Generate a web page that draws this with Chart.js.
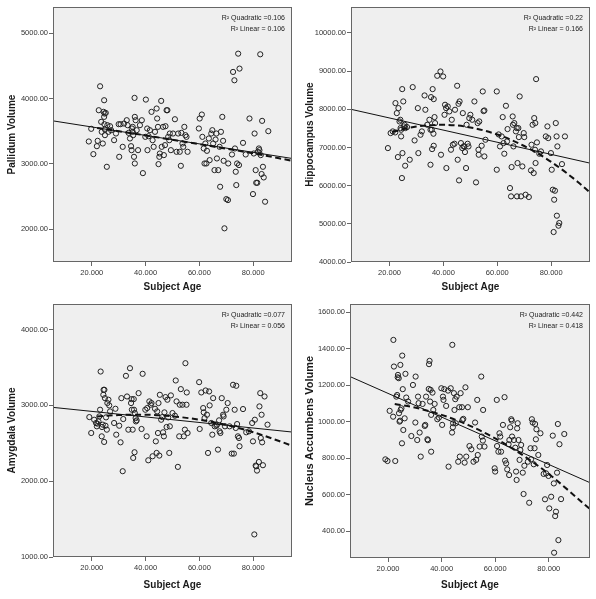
<!DOCTYPE html>
<html>
<head>
<meta charset="utf-8">
<script src="https://cdn.jsdelivr.net/npm/chart.js@4.4.1/dist/chart.umd.min.js"></script>
<style>
  body { margin: 0; background: #fff; }
  #wrap { position: relative; width: 596px; height: 599px; }
  canvas { position: absolute; }
</style>
</head>
<body>
<div id="wrap">
  <canvas id="c0" width="298" height="300" style="left:0;top:0"></canvas>
  <canvas id="c1" width="298" height="300" style="left:298px;top:0"></canvas>
  <canvas id="c2" width="298" height="299" style="left:0;top:300px"></canvas>
  <canvas id="c3" width="298" height="299" style="left:298px;top:300px"></canvas>
</div>
<script>
// [age, volume] pairs
const pallidum = [
  [18.9,3342],[19.8,3536],[20.6,3148],[22.2,3352],[21.9,3270],[22.6,3821],[23.1,4188],[23.5,3643],
  [23.7,3490],[24.6,3974],[24.4,3796],[24.8,3770],[25.2,3780],[24.6,3719],[24.7,3607],[24.9,3525],
  [24.9,3439],[25.6,2954],[24.1,3311],[25.8,3592],[26.2,3490],[26.8,3576],[27.2,3515],[28.3,3362],
  [29.0,3464],[30.0,3607],[30.2,3107],[30.7,3607],[31.5,3260],[32.0,3617],[33.0,3668],[33.3,3592],
  [33.7,3474],[34.2,3388],[34.6,3270],[34.8,3209],[34.9,3541],[35.2,3490],[35.2,3566],[35.4,3439],
  [35.7,3107],[35.9,4010],[36.0,3719],[36.3,3668],[36.0,3005],[36.7,3515],[37.2,3209],[37.9,3592],
  [38.6,3668],[39.0,2857],[39.9,3413],[40.1,3984],[40.6,3541],[40.7,3209],[41.1,3423],[41.6,3515],
  [42.2,3796],[42.6,3362],[43.0,3260],[43.5,3490],[44.1,3847],[44.3,3694],[44.6,3566],[44.8,2995],
  [45.1,3107],[45.3,3158],[45.8,3964],[46.0,3260],[46.5,3566],[46.8,3133],[47.2,3286],[47.4,3576],
  [47.8,3821],[48.1,3821],[48.4,3413],[48.8,3362],[49.0,3464],[49.4,3209],[50.2,3464],[50.9,3683],
  [51.5,3184],[52.1,3464],[52.7,3184],[53.1,2969],[53.3,3474],[53.7,3311],[54.0,3260],[54.4,3566],
  [54.8,3439],[55.2,3413],[55.6,3184],[59.8,3541],[60.1,3694],[60.9,3755],[61.1,3413],[61.6,3235],
  [61.9,3005],[62.2,3311],[62.6,3005],[62.8,3199],[63.5,3388],[63.8,3056],[64.4,3464],[64.8,3515],
  [65.1,3311],[65.6,2903],[66.0,3372],[66.3,3464],[66.5,3082],[67.0,2903],[67.5,3260],[67.7,2648],
  [68.0,3490],[68.5,3719],[68.8,3352],[69.0,3046],[69.3,2011],[70.0,2459],[70.6,2444],[70.7,3005],
  [72.1,3143],[72.5,4408],[73.0,4280],[73.2,3235],[73.5,2878],[73.7,2674],[74.0,3005],[74.4,4688],
  [74.9,4459],[74.7,2980],[76.2,3321],[77.2,3143],[78.6,3694],[79.9,2536],[80.2,3158],[80.5,3464],
  [80.9,2903],[81.1,2709],[81.5,2709],[81.7,3184],[82.1,3235],[82.3,3209],[82.6,4678],[82.8,3133],
  [83.1,2843],[83.3,3658],[83.6,2954],[83.9,2791],[84.4,2419],[85.6,3500]
];
const hippocampus = [
  [19.4,6984],[20.4,7377],[21.2,7421],[22.1,7394],[22.2,8162],[22.7,7900],[23.1,6749],[23.3,8031],
  [23.7,7682],[24.0,7726],[24.1,7508],[24.3,7464],[24.3,7290],[24.6,6199],[24.7,8529],[24.8,6853],
  [25.1,8206],[25.3,7552],[25.6,7595],[25.8,6522],[25.9,7508],[26.5,7534],[27.5,6679],[28.6,8581],
  [29.3,7185],[30.5,8031],[30.7,6853],[31.5,7333],[32.0,7421],[33.0,8363],[33.3,7988],[34.0,7595],
  [34.8,7726],[35.2,6548],[35.2,7464],[35.4,8319],[35.7,7464],[35.8,6958],[36.0,8529],[36.3,7360],
  [36.4,8267],[36.4,7045],[36.7,7796],[36.9,7639],[37.7,8878],[38.9,8991],[39.1,6810],[39.9,8860],
  [40.4,7857],[40.6,8119],[41.0,8031],[41.1,6461],[41.6,8075],[42.2,7944],[42.8,6941],[43.1,7726],
  [43.5,7072],[44.1,7098],[44.3,7988],[45.1,8616],[45.3,6679],[45.6,8145],[45.8,6138],[46.0,8206],
  [46.5,7115],[47.0,6984],[47.2,7900],[47.5,7028],[47.8,7028],[48.0,6880],[48.4,6461],[48.6,7595],
  [49.0,7098],[49.3,7028],[49.6,7770],[50.0,7857],[50.7,7726],[51.5,8206],[52.1,6086],[52.7,7639],
  [53.0,6941],[53.1,6810],[53.3,7682],[54.2,7045],[54.6,8468],[54.9,7953],[55.2,7970],[55.2,6766],
  [55.6,7202],[59.8,8468],[59.8,6417],[60.5,7342],[61.0,7028],[61.6,7290],[62.0,7796],[62.3,7115],
  [62.6,6836],[63.2,8092],[63.6,7159],[63.8,7482],[64.7,5937],[65.1,5719],[65.3,6487],[65.7,7813],
  [65.8,7595],[66.0,7028],[66.3,7639],[66.9,7421],[67.2,7508],[67.3,5719],[67.5,6592],[67.8,7508],
  [68.0,7272],[68.3,8337],[68.8,5719],[69.3,6504],[69.8,7377],[70.0,7272],[70.5,5763],[71.7,5702],
  [72.5,6400],[72.7,7072],[73.1,7595],[73.5,6330],[73.7,7770],[74.0,6941],[74.1,7639],[74.2,6592],
  [74.4,8791],[74.7,7133],[75.6,6836],[76.2,6897],[78.0,7290],[78.6,7552],[78.9,7246],[79.9,6853],
  [80.2,6417],[80.6,5894],[81.1,5632],[81.4,5867],[81.7,7639],[82.0,7290],[82.1,5213],[82.3,7028],
  [82.7,4951],[83.0,5021],[80.9,4785],[84.0,6565],[85.1,7290]
];
const amygdala = [
  [19.1,2846],[19.8,2636],[20.9,2811],[21.6,2768],[21.9,2724],[22.1,2759],[22.5,2789],[22.8,2855],
  [23.1,2943],[23.3,3447],[23.7,2592],[23.8,2715],[24.1,2746],[24.3,3140],[24.4,3206],[24.6,2518],
  [24.7,3206],[24.9,3096],[25.1,2732],[25.3,2842],[25.6,2680],[25.8,3031],[26.2,3075],[26.5,3000],
  [26.8,2921],[28.3,2768],[28.8,2956],[29.1,2614],[30.2,2732],[30.7,2513],[31.0,3096],[31.5,2132],
  [31.7,2820],[32.7,3390],[33.1,3118],[33.6,2680],[34.2,3491],[34.6,3031],[34.8,3083],[34.9,2943],
  [35.2,2680],[35.4,2307],[35.6,3083],[35.7,2943],[35.9,2382],[36.0,2899],[36.3,2833],[36.4,2789],
  [36.7,2803],[37.4,3162],[38.5,2689],[38.9,3417],[39.9,2943],[40.4,2592],[40.6,2965],[41.0,2276],
  [41.4,3053],[41.9,3009],[42.2,3031],[42.6,2329],[43.5,2956],[43.8,2526],[44.1,2373],[44.3,2921],
  [44.6,2636],[44.8,3031],[45.1,2338],[45.3,3140],[45.8,2811],[46.2,2846],[46.5,2645],[46.8,2592],
  [47.0,2908],[47.4,3110],[47.8,2715],[48.1,3075],[48.4,2842],[48.8,2373],[49.0,2724],[49.4,3132],
  [50.0,2899],[50.9,2864],[51.2,3329],[51.5,3053],[52.0,2189],[52.5,2592],[52.7,3009],[53.1,3215],
  [53.7,3009],[54.2,2592],[54.6,2680],[54.8,3557],[55.2,3009],[55.3,3171],[55.6,2636],[59.9,3307],
  [60.1,2689],[60.7,3171],[61.4,2965],[61.6,2908],[61.9,2833],[62.3,3197],[62.8,2877],[63.2,2373],
  [63.6,3184],[63.8,3000],[64.4,2768],[64.8,2614],[65.1,3096],[65.7,2724],[66.3,2732],[66.5,2746],
  [66.9,2417],[67.3,2803],[67.5,2658],[67.8,2636],[68.3,3096],[68.8,2877],[69.0,2855],[69.5,2724],
  [70.0,2943],[70.5,3031],[71.2,2724],[72.0,2364],[72.5,3272],[72.8,2364],[73.1,2943],[73.5,2702],
  [73.7,3259],[74.0,2754],[74.3,2592],[74.7,2570],[74.9,2461],[76.2,2952],[77.4,2645],[78.4,2658],
  [79.6,2768],[79.9,2526],[80.4,1298],[80.6,2811],[80.9,2206],[81.1,2197],[81.4,2140],[82.1,2254],
  [82.3,2987],[82.6,3162],[82.8,2570],[83.1,2877],[83.3,2513],[83.6,2211],[84.2,3118],[85.3,2746]
];
const accumbens = [
  [19.0,793],[19.8,784],[20.6,1059],[21.9,1027],[22.2,1302],[22.7,784],[22.0,1448],[23.1,1137],
  [23.4,1146],[23.6,1243],[23.7,1256],[24.0,1238],[24.1,1046],[24.3,1000],[24.5,1005],[24.6,1311],
  [24.7,1064],[25.0,1073],[25.2,881],[25.3,1362],[25.5,1178],[25.7,954],[26.2,1018],[26.5,1262],
  [26.8,1132],[27.5,1110],[28.7,921],[29.3,1201],[30.2,995],[30.3,1247],[30.9,899],[31.2,1137],
  [31.4,1101],[31.8,940],[32.2,808],[32.9,1097],[33.7,976],[33.9,982],[34.2,1137],[34.7,903],
  [34.9,898],[35.2,1179],[35.3,1315],[35.5,1333],[35.7,1110],[35.9,1174],[36.1,835],[36.1,1037],
  [36.6,1159],[36.9,1064],[37.4,1097],[38.4,1013],[39.0,1022],[39.9,1183],[40.2,982],[40.5,1137],
  [40.7,1119],[41.0,1178],[41.7,1086],[42.4,1170],[42.6,753],[43.4,1183],[43.9,940],[44.0,1421],
  [44.2,969],[44.3,991],[44.6,1156],[44.8,1064],[45.1,1123],[45.3,991],[45.6,1137],[46.2,780],
  [46.6,1079],[46.8,808],[47.1,1156],[47.6,1079],[47.8,1009],[48.1,1015],[48.6,775],[48.9,1188],
  [49.2,808],[49.8,1079],[50.4,866],[51.1,848],[51.9,780],[52.5,995],[52.9,790],[53.3,1119],
  [53.5,817],[54.2,863],[54.8,1247],[55.0,918],[55.4,896],[55.5,1064],[56.0,863],[59.8,744],
  [60.0,726],[60.6,1119],[60.7,866],[61.2,835],[61.6,936],[61.9,918],[62.2,835],[62.9,982],
  [63.5,1134],[63.7,786],[64.1,771],[64.5,738],[65.0,876],[65.2,707],[65.3,899],[65.6,969],
  [66.0,1013],[66.2,1005],[66.3,918],[67.0,899],[67.5,857],[67.8,726],[68.0,680],[68.2,963],
  [68.4,991],[68.7,899],[69.1,790],[69.4,844],[69.7,872],[70.3,720],[70.6,603],[70.9,758],
  [72.2,780],[72.7,555],[73.2,854],[73.4,793],[73.7,1013],[74.0,995],[74.4,766],[74.7,854],
  [74.9,987],[75.2,903],[75.4,958],[76.1,817],[76.9,936],[78.1,713],[78.6,574],[79.0,716],
  [79.4,762],[79.9,702],[80.2,524],[80.9,588],[81.5,923],[81.9,661],[82.4,482],[82.7,506],
  [83.1,720],[83.4,987],[83.6,350],[84.0,876],[84.6,575],[85.8,932],[82.0,281]
];

// fit lines: linear (solid) and quadratic (dashed)
const pallidumLinear = [[5.6,3658],[94.4,3082]];
const pallidumQuad = [[22,3550],[40,3435],[60,3300],[80,3160],[94.4,3046]];
const hippocampusLinear = [[5.7,8000],[94.4,6590]];
const hippocampusQuad = [[21,7408],[30,7549],[40,7595],[50,7525],[60,7340],[70,7039],[80,6623],[90,6091],[94.4,5820]];
const amygdalaLinear = [[5.6,2974],[94.4,2649]];
const amygdalaQuad = [[22,2853],[30,2873],[40,2877],[50,2856],[60,2811],[70,2742],[80,2647],[94.4,2469]];
const accumbensLinear = [[5.8,1247],[95.4,665]];
const accumbensQuad = [[22.5,1096],[30,1077],[40,1037],[50,981],[60,908],[70,819],[80,713],[95.4,520]];

// tick values
const ageTicks = [20, 40, 60, 80];
const pallidumTicks = [2000, 3000, 4000, 5000];
const hippocampusTicks = [4000, 5000, 6000, 7000, 8000, 9000, 10000];
const amygdalaTicks = [1000, 2000, 3000, 4000];
const accumbensTicks = [400, 600, 800, 1000, 1200, 1400, 1600];

const pallidumNotes = ["R\u00b2 Quadratic =0.106", "R\u00b2 Linear = 0.106"];
const hippocampusNotes = ["R\u00b2 Quadratic =0.22", "R\u00b2 Linear = 0.166"];
const amygdalaNotes = ["R\u00b2 Quadratic =0.077", "R\u00b2 Linear = 0.056"];
const accumbensNotes = ["R\u00b2 Quadratic =0.442", "R\u00b2 Linear = 0.418"];

const FONT = "Arial, 'Liberation Sans', sans-serif";
const toXY = (arr) => arr.map(([x, y]) => ({ x, y }));

const framePlugin = {
  id: "frame",
  beforeDraw(chart) {
    const { ctx, chartArea: a } = chart;
    ctx.save();
    ctx.fillStyle = "#efefef";
    ctx.fillRect(a.left, a.top, a.right - a.left, a.bottom - a.top);
    ctx.restore();
  },
  afterDraw(chart) {
    const { ctx, chartArea: a } = chart;
    const notes = chart.options.plugins.frame.notes;
    ctx.save();
    ctx.strokeStyle = "#666";
    ctx.lineWidth = 1;
    ctx.strokeRect(a.left + 0.5, a.top + 0.5, a.right - a.left - 1, a.bottom - a.top - 1);
    ctx.fillStyle = "#222";
    ctx.font = "7px " + FONT;
    ctx.textAlign = "right";
    ctx.textBaseline = "middle";
    ctx.fillText(notes[0], a.right - 7, a.top + 11.5);
    ctx.fillText(notes[1], a.right - 7, a.top + 22.5);
    ctx.restore();
  },
};

function makePanel(id, p) {
  const canvas = document.getElementById(id);
  const w = canvas.width;
  const h = canvas.height;
  const tickFont = { size: 7.5, family: FONT };
  const grid = { drawOnChartArea: false, drawTicks: true, tickLength: 4, color: "#666", lineWidth: 1 };

  return new Chart(canvas, {
    type: "scatter",
    data: {
      datasets: [
        { type: "line", data: toXY(p.linear), borderColor: "#111", borderWidth: 1, pointRadius: 0, fill: false },
        {
          type: "line", data: toXY(p.quad), borderColor: "#111", borderWidth: 2, borderDash: [6, 3.5],
          pointRadius: 0, fill: false, cubicInterpolationMode: "monotone",
        },
        { data: toXY(p.points), pointRadius: 2.6, borderWidth: 1, borderColor: "#222", backgroundColor: "rgba(0,0,0,0)" },
      ],
    },
    options: {
      responsive: false,
      animation: false,
      events: [],
      layout: { autoPadding: false, padding: { left: 0, top: p.box.top, right: w - p.box.right, bottom: 0 } },
      plugins: { legend: { display: false }, tooltip: { enabled: false }, frame: { notes: p.notes } },
      scales: {
        x: {
          type: "linear",
          min: p.xMin,
          max: p.xMax,
          afterBuildTicks: (s) => { s.ticks = ageTicks.map((v) => ({ value: v })); },
          afterFit: (s) => { s.height = h - p.box.bottom; s.paddingLeft = 0; s.paddingRight = 0; },
          ticks: { font: tickFont, color: "#333", padding: 2, maxRotation: 0, callback: (v) => Number(v).toFixed(3) },
          grid,
          border: { display: false },
          title: { display: true, text: "Subject Age", color: "#1a1a1a", font: { size: 10, weight: "bold", family: FONT }, padding: { top: 0, bottom: p.xTitlePad } },
        },
        y: {
          type: "linear",
          min: p.yMin,
          max: p.yMax,
          afterBuildTicks: (s) => { s.ticks = p.yTicks.map((v) => ({ value: v })); },
          afterFit: (s) => { s.width = p.box.left; s.paddingTop = 0; s.paddingBottom = 0; },
          ticks: { font: tickFont, color: "#333", padding: 1, callback: (v) => Number(v).toFixed(2) },
          grid,
          border: { display: false },
          title: { display: true, text: p.yTitle, color: "#1a1a1a", font: { size: p.yTitleSize, weight: "bold", family: FONT }, padding: { top: p.yTitlePad, bottom: 0 } },
        },
      },
    },
    plugins: [framePlugin],
  });
}

makePanel("c0", {
  points: pallidum, linear: pallidumLinear, quad: pallidumQuad, notes: pallidumNotes,
  yTicks: pallidumTicks, yMin: 1495, yMax: 5403, xMin: 5.6, xMax: 94.4,
  yTitle: "Pallidum Volume", yTitleSize: 10, yTitlePad: 6.7, xTitlePad: 6.7,
  box: { left: 53, top: 7, right: 292, bottom: 262 },
});
makePanel("c1", {
  points: hippocampus, linear: hippocampusLinear, quad: hippocampusQuad, notes: hippocampusNotes,
  yTicks: hippocampusTicks, yMin: 4000, yMax: 10680, xMin: 5.7, xMax: 94.4,
  yTitle: "Hippocampus Volume", yTitleSize: 10, yTitlePad: 6.7, xTitlePad: 6.7,
  box: { left: 53, top: 7, right: 292, bottom: 262 },
});
makePanel("c2", {
  points: amygdala, linear: amygdalaLinear, quad: amygdalaQuad, notes: amygdalaNotes,
  yTicks: amygdalaTicks, yMin: 1000, yMax: 4338, xMin: 5.6, xMax: 94.4,
  yTitle: "Amygdala Volume", yTitleSize: 10, yTitlePad: 6.7, xTitlePad: 8,
  box: { left: 53, top: 4, right: 292, bottom: 257 },
});
makePanel("c3", {
  points: accumbens, linear: accumbensLinear, quad: accumbensQuad, notes: accumbensNotes,
  yTicks: accumbensTicks, yMin: 252, yMax: 1645, xMin: 5.8, xMax: 95.4,
  yTitle: "Nucleus Accumbens Volume", yTitleSize: 11, yTitlePad: 5, xTitlePad: 8,
  box: { left: 52, top: 4, right: 292, bottom: 258 },
});
</script>
</body>
</html>
